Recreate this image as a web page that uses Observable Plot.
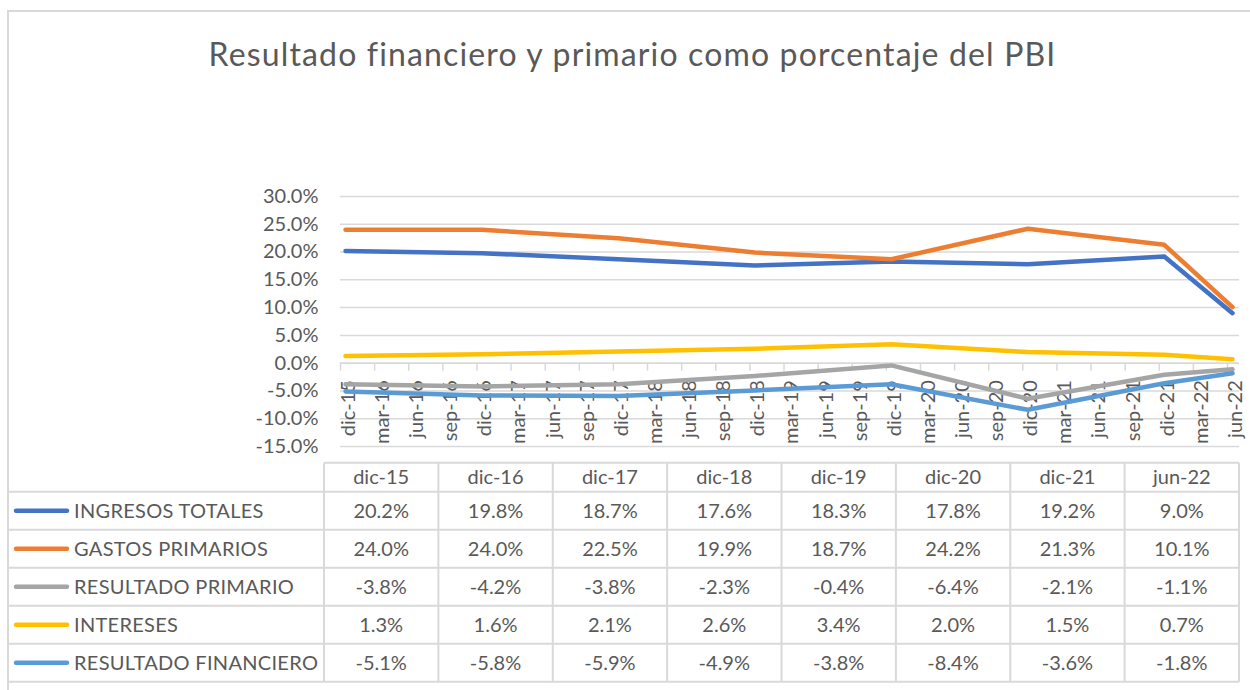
<!DOCTYPE html>
<html><head><meta charset="utf-8">
<script src="https://cdn.jsdelivr.net/npm/d3@7"></script>
<script src="https://cdn.jsdelivr.net/npm/@observablehq/plot@0.6"></script>
<style>
body{margin:0;background:#fff;}
#wrap{position:relative;width:1250px;height:690px;overflow:hidden;font-family:Lato,sans-serif;color:#595959;background:#fff;}
#border{position:absolute;left:7px;top:10px;width:1400px;height:900px;border:2px solid #d9d9d9;box-sizing:border-box;}
#title{position:absolute;left:0;width:1265px;top:38px;text-align:center;font-size:32px;line-height:32px;letter-spacing:1.15px;white-space:nowrap;}
#chart{position:absolute;left:0;top:170px;}
#table{position:absolute;left:0;top:0;}
</style></head>
<body><div id="wrap"><div id="border"></div><div id="title">Resultado financiero y primario como porcentaje del PBI</div><div id="chart"></div><svg id="table" width="1250" height="690"></svg></div>
<script>
const quarters = ["dic-15","mar-16","jun-16","sep-16","dic-16","mar-17","jun-17","sep-17","dic-17","mar-18","jun-18","sep-18","dic-18","mar-19","jun-19","sep-19","dic-19","mar-20","jun-20","sep-20","dic-20","mar-21","jun-21","sep-21","dic-21","mar-22","jun-22"];
const periods = ["dic-15","dic-16","dic-17","dic-18","dic-19","dic-20","dic-21","jun-22"];
const seriesNames = ["INGRESOS TOTALES","GASTOS PRIMARIOS","RESULTADO PRIMARIO","INTERESES","RESULTADO FINANCIERO"];
const seriesColors = ["#4472C4","#ED7D31","#A5A5A5","#FFC000","#5B9BD5"];
const ingresosTotales = [20.2,19.8,18.7,17.6,18.3,17.8,19.2,9.0];
const gastosPrimarios = [24.0,24.0,22.5,19.9,18.7,24.2,21.3,10.1];
const resultadoPrimario = [-3.8,-4.2,-3.8,-2.3,-0.4,-6.4,-2.1,-1.1];
const intereses = [1.3,1.6,2.1,2.6,3.4,2.0,1.5,0.7];
const resultadoFinanciero = [-5.1,-5.8,-5.9,-4.9,-3.8,-8.4,-3.6,-1.8];
const yTicks = [-15,-10,-5,0,5,10,15,20,25,30];

const seriesValues = [ingresosTotales,gastosPrimarios,resultadoPrimario,intereses,resultadoFinanciero];
const fmt = d => d.toFixed(1) + "%";
const rows = seriesNames.flatMap((s,k) => periods.map((p,j) => ({series:s, q:quarters.indexOf(p), value:seriesValues[k][j]})));
const txt = "#595959", grid = "#d9d9d9";

const chart = Plot.plot({
  width:1250, height:290, marginLeft:340, marginRight:11, marginTop:26, marginBottom:14,
  style:{fontFamily:"Lato, sans-serif", fontSize:"20px", color:txt, background:"transparent", overflow:"visible"},
  x:{type:"linear", domain:[-0.147, 26.205], axis:null},
  y:{domain:[-15,30], axis:null},
  color:{domain:seriesNames, range:seriesColors},
  marks:[
    Plot.gridY(yTicks,{stroke:grid, strokeOpacity:1, strokeWidth:1.5}),
    Plot.axisY(yTicks,{tickSize:0, tickPadding:22, tickFormat:fmt, fill:txt, fontSize:20, label:null}),
    Plot.ruleY([0],{stroke:grid, strokeWidth:1.5}),
    Plot.ruleX(quarters,{x:(d,i)=>i, y1:0, y2:0, dx:-5, insetBottom:-8, stroke:grid, strokeWidth:1.5}),
    Plot.text(quarters,{x:(d,i)=>i, y:0, text:d=>d, rotate:-90, textAnchor:"end", dx:3, dy:17, fill:txt, fontSize:20}),
    Plot.line(rows,{x:"q", y:"value", z:"series", stroke:"series", strokeWidth:4.5, strokeLinecap:"round", strokeLinejoin:"round"})
  ]
});
document.getElementById("chart").appendChild(chart);

// data table
const svg = d3.select("#table").style("font-family","Lato, sans-serif").style("font-size","20px");
const tx0 = 324, tx1 = 1239, left = 8;
const cw = (tx1 - tx0) / periods.length;
const headTop = 462.7, headBot = 491.7, rh = 38;
const rowY = seriesNames.map((s,k) => headBot + k*rh);
const bottom = headBot + seriesNames.length*rh;
const g = svg.append("g").attr("stroke", grid).attr("stroke-width", 2);
g.append("line").attr("x1",tx0).attr("x2",tx1).attr("y1",headTop).attr("y2",headTop);
[headBot, ...rowY.map(y=>y+rh)].forEach(y => g.append("line").attr("x1",left).attr("x2",tx1).attr("y1",y).attr("y2",y));
g.append("line").attr("x1",left).attr("x2",left).attr("y1",headBot).attr("y2",bottom);
d3.range(periods.length+1).forEach(j => g.append("line").attr("x1",tx0+j*cw).attr("x2",tx0+j*cw).attr("y1",headTop).attr("y2",bottom));
periods.forEach((p,j) => svg.append("text").attr("x",tx0+(j+0.5)*cw).attr("y",(headTop+headBot)/2).attr("dy","0.35em").attr("text-anchor","middle").attr("fill",txt).text(p));
seriesNames.forEach((s,k) => {
  const cy = rowY[k] + rh/2;
  svg.append("line").attr("x1",16).attr("x2",67).attr("y1",cy).attr("y2",cy).attr("stroke",seriesColors[k]).attr("stroke-width",4.5).attr("stroke-linecap","round");
  svg.append("text").attr("x",74).attr("y",cy).attr("dy","0.35em").attr("fill",txt).attr("letter-spacing","0.3px").text(s);
  seriesValues[k].forEach((v,j) => svg.append("text").attr("x",tx0+(j+0.5)*cw).attr("y",cy).attr("dy","0.35em").attr("text-anchor","middle").attr("fill",txt).text(fmt(v)));
});
</script></body></html>
